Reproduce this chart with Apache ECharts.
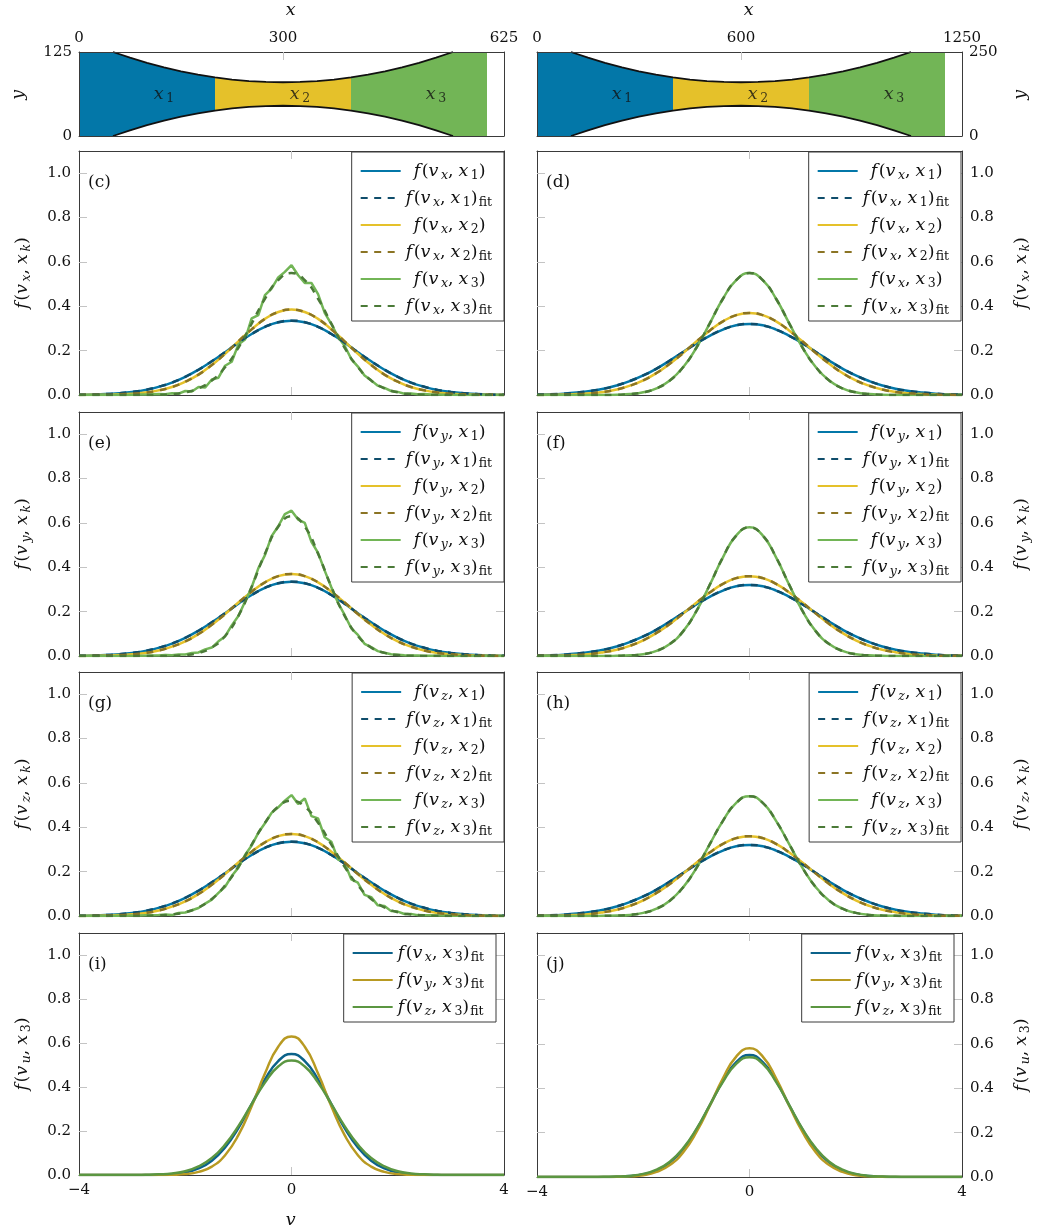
<!DOCTYPE html>
<html>
<head>
<meta charset="utf-8">
<script src="https://cdn.jsdelivr.net/npm/echarts@6/dist/echarts.min.js"></script>
<style>html,body{margin:0;padding:0;background:#fff}#chart{width:1037px;height:1230px}</style>
</head>
<body>
<div id="chart"></div>
<script>
// sample grids of v
var vGrid = [-4, -3.75, -3.5, -3.25, -3, -2.75, -2.5, -2.25, -2, -1.75, -1.5, -1.25, -1, -0.75, -0.5, -0.25, 0,
    0.25, 0.5, 0.75, 1, 1.25, 1.5, 1.75, 2, 2.25, 2.5, 2.75, 3, 3.25, 3.5, 3.75, 4];
var vFine = [-4, -3.875, -3.75, -3.625, -3.5, -3.375, -3.25, -3.125, -3, -2.875, -2.75, -2.625, -2.5, -2.375, -2.25, -2.125,
    -2, -1.875, -1.75, -1.625, -1.5, -1.375, -1.25, -1.125, -1, -0.875, -0.75, -0.625, -0.5, -0.375, -0.25, -0.125, 0,
    0.125, 0.25, 0.375, 0.5, 0.625, 0.75, 0.875, 1, 1.125, 1.25, 1.375, 1.5, 1.625, 1.75, 1.875, 2,
    2.125, 2.25, 2.375, 2.5, 2.625, 2.75, 2.875, 3, 3.125, 3.25, 3.375, 3.5, 3.625, 3.75, 3.875, 4];

// smooth profiles (on vGrid)
var G32 = [0.002, 0.003, 0.006, 0.011, 0.018, 0.028, 0.043, 0.063, 0.088, 0.119, 0.155, 0.194, 0.232, 0.267, 0.295, 0.314, 0.320,
    0.314, 0.295, 0.267, 0.232, 0.194, 0.155, 0.119, 0.088, 0.063, 0.043, 0.028, 0.018, 0.011, 0.006, 0.003, 0.002];
var G33 = [0.001, 0.002, 0.004, 0.008, 0.014, 0.023, 0.037, 0.056, 0.082, 0.114, 0.152, 0.193, 0.236, 0.275, 0.307, 0.328, 0.335,
    0.328, 0.307, 0.275, 0.236, 0.193, 0.152, 0.114, 0.082, 0.056, 0.037, 0.023, 0.014, 0.008, 0.004, 0.002, 0.001];
var G36 = [0.001, 0.001, 0.002, 0.005, 0.009, 0.017, 0.028, 0.046, 0.071, 0.104, 0.144, 0.191, 0.240, 0.286, 0.325, 0.351, 0.360,
    0.351, 0.325, 0.286, 0.240, 0.191, 0.144, 0.104, 0.071, 0.046, 0.028, 0.017, 0.009, 0.005, 0.002, 0.001, 0.001];
var G37 = [0.000, 0.001, 0.002, 0.004, 0.008, 0.014, 0.025, 0.042, 0.066, 0.099, 0.141, 0.189, 0.241, 0.290, 0.332, 0.360, 0.370,
    0.360, 0.332, 0.290, 0.241, 0.189, 0.141, 0.099, 0.066, 0.042, 0.025, 0.014, 0.008, 0.004, 0.002, 0.001, 0.000];
var G38 = [0.000, 0.001, 0.001, 0.003, 0.006, 0.011, 0.021, 0.036, 0.060, 0.092, 0.135, 0.186, 0.242, 0.296, 0.343, 0.374, 0.385,
    0.374, 0.343, 0.296, 0.242, 0.186, 0.135, 0.092, 0.060, 0.036, 0.021, 0.011, 0.006, 0.003, 0.001, 0.001, 0.000];
var G52 = [0, 0, 0, 0, 0, 0.001, 0.003, 0.007, 0.017, 0.039, 0.077, 0.138, 0.222, 0.322, 0.420, 0.493, 0.520,
    0.493, 0.420, 0.322, 0.222, 0.138, 0.077, 0.039, 0.017, 0.007, 0.003, 0.001, 0, 0, 0, 0, 0];
var G54 = [0, 0, 0, 0, 0, 0.001, 0.002, 0.005, 0.014, 0.033, 0.069, 0.129, 0.216, 0.323, 0.429, 0.510, 0.540,
    0.510, 0.429, 0.323, 0.216, 0.129, 0.069, 0.033, 0.014, 0.005, 0.002, 0.001, 0, 0, 0, 0, 0];
var G55 = [0, 0, 0, 0, 0, 0, 0.001, 0.004, 0.012, 0.030, 0.065, 0.125, 0.213, 0.322, 0.434, 0.518, 0.550,
    0.518, 0.434, 0.322, 0.213, 0.125, 0.065, 0.030, 0.012, 0.004, 0.001, 0, 0, 0, 0, 0, 0];
var G58 = [0, 0, 0, 0, 0, 0, 0.001, 0.003, 0.008, 0.023, 0.054, 0.111, 0.202, 0.320, 0.445, 0.543, 0.580,
    0.543, 0.445, 0.320, 0.202, 0.111, 0.054, 0.023, 0.008, 0.003, 0.001, 0, 0, 0, 0, 0, 0];
var G63 = [0, 0, 0, 0, 0, 0, 0, 0.001, 0.004, 0.014, 0.038, 0.090, 0.181, 0.312, 0.461, 0.583, 0.630,
    0.583, 0.461, 0.312, 0.181, 0.090, 0.038, 0.014, 0.004, 0.001, 0, 0, 0, 0, 0, 0, 0];

// noisy x3 histograms of (c), (e), (g) (on vFine)
var N_c = [0, 0, 0, 0, 0, 0, 0.001, 0, 0.001, 0.002, 0.002, 0.003,
    0.004, 0.003, 0.008, 0.006, 0.018, 0.016, 0.036, 0.034, 0.070, 0.078, 0.132, 0.150, 0.228, 0.250, 0.345, 0.360, 0.450, 0.480, 0.530, 0.555,
    0.585,
    0.540, 0.505, 0.505, 0.455, 0.370, 0.320, 0.262, 0.222, 0.162, 0.128, 0.088, 0.066, 0.042, 0.032, 0.018, 0.014, 0.006, 0.007, 0.003, 0.004,
    0.002, 0.002, 0.001, 0.001, 0, 0, 0, 0, 0, 0, 0, 0];
var N_e = [0, 0, 0, 0, 0, 0, 0, 0, 0, 0.001, 0.001, 0.002,
    0.002, 0.004, 0.003, 0.007, 0.007, 0.014, 0.016, 0.030, 0.038, 0.066, 0.088, 0.138, 0.180, 0.245, 0.310, 0.395, 0.455, 0.540, 0.585, 0.640,
    0.655,
    0.615, 0.600, 0.515, 0.465, 0.385, 0.310, 0.240, 0.185, 0.125, 0.095, 0.055, 0.040, 0.022, 0.015, 0.008, 0.006, 0.003, 0.002, 0.002, 0.001,
    0.001, 0.001, 0, 0, 0, 0, 0, 0, 0, 0, 0, 0];
var N_g = [0, 0, 0, 0, 0, 0.001, 0.001, 0.001, 0.002, 0.002, 0.003, 0.003,
    0.004, 0.007, 0.004, 0.014, 0.016, 0.026, 0.036, 0.056, 0.074, 0.104, 0.132, 0.180, 0.218, 0.275, 0.318, 0.375, 0.418, 0.465, 0.490, 0.520,
    0.545,
    0.505, 0.530, 0.450, 0.440, 0.355, 0.335, 0.255, 0.240, 0.165, 0.150, 0.095, 0.085, 0.048, 0.045, 0.022, 0.020, 0.009, 0.009, 0.004, 0.003,
    0.003, 0.002, 0.002, 0.001, 0.001, 0, 0, 0, 0, 0, 0, 0];

// channel geometry of (a) and (b)
var wallXa = [0, 50, 75, 100, 125, 150, 175, 200, 225, 250, 275, 300, 325, 350, 375, 400, 425, 450, 475, 500, 525, 550, 600, 625];
var wallTopA = [125, 125, 116.5, 108.8, 102, 96.2, 91.3, 87.2, 84, 81.8, 80.5, 80, 80.5, 81.8, 84, 87.2, 91.3, 96.2, 102, 108.8, 116.5, 125, 125, 125];
var wallBotA = [0, 0, 8.5, 16.2, 23, 28.8, 33.7, 37.8, 41, 43.2, 44.5, 45, 44.5, 43.2, 41, 37.8, 33.7, 28.8, 23, 16.2, 8.5, 0, 0, 0];
var wallXb = [0, 100, 150, 200, 250, 300, 350, 400, 450, 500, 550, 600, 650, 700, 750, 800, 850, 900, 950, 1000, 1050, 1100, 1200, 1250];
var wallTopB = [250, 250, 233, 217.6, 204, 192.4, 182.6, 174.4, 168, 163.6, 161, 160, 161, 163.6, 168, 174.4, 182.6, 192.4, 204, 217.6, 233, 250, 250, 250];
var wallBotB = [0, 0, 17, 32.4, 46, 57.6, 67.4, 75.6, 82, 86.4, 89, 90, 89, 86.4, 82, 75.6, 67.4, 57.6, 46, 32.4, 17, 0, 0, 0];
var regionsA = [[0, 200], [200, 400], [400, 600]];
var regionsB = [[0, 400], [400, 800], [800, 1200]];
var labelXA = [125, 325, 525];
var labelXB = [250, 650, 1050];

var FONT = 'DejaVu Serif';
var C = {
    blue: '#0377a8', yellow: '#e5c12a', green: '#72b556',
    blueD: '#0f4d6b', yellowD: '#8b7424', greenD: '#4b7a38',
    fitX: '#0b628a', fitY: '#b89a22', fitZ: '#5b9641',
    axis: '#3a3a3a', tick: '#c4c4c4', text: '#111'
};
var rich = {
    i: {fontFamily: FONT, fontStyle: 'italic', fontSize: 17.5, color: C.text, lineHeight: 22, padding: [0, 1.5, 0, 0]},
    r: {fontFamily: FONT, fontSize: 17.5, color: C.text, lineHeight: 22},
    si: {fontFamily: FONT, fontStyle: 'italic', fontSize: 12.5, color: C.text, lineHeight: 12, verticalAlign: 'bottom', padding: [0, 0, 0, 1]},
    sr: {fontFamily: FONT, fontSize: 12.5, color: C.text, lineHeight: 12, verticalAlign: 'bottom', padding: [0, 0, 0, 1]},
    sp: {width: 5},
    p: {width: 8}
};

function fName(comp, idx, fit, pad) {
    return (pad ? '{p| }' : '') + '{i|f}{r|(}{i|v}{si|' + comp + '}{r|,}{sp| }{i|x}{' + (idx === 'k' ? 'si' : 'sr') + '|' + idx + '}{r|)}' +
        (fit ? '{sr|fit}' : '');
}

var cols = [{left: 79, width: 425}, {left: 537, width: 425}];
var rows = [{top: 51, height: 85}, {top: 151, height: 244}, {top: 412, height: 244}, {top: 672, height: 244}, {top: 933, height: 244}];

var grids = [], xAxes = [], yAxes = [], series = [], legends = [], graphics = [], legendText = {};
var labelStyle = {fontFamily: FONT, fontSize: 15, color: C.text};

function addGrid(col, row) {
    grids.push({left: cols[col].left, top: rows[row].top, width: cols[col].width, height: rows[row].height, show: false});
    return grids.length - 1;
}
function axisLine() {
    return {show: true, onZero: false, lineStyle: {color: C.axis, width: 1}};
}
function tickStyle(vals) {
    return {show: true, inside: true, length: 8, customValues: vals, lineStyle: {color: C.tick, width: 1}};
}

// ---- (a) and (b): channel shape
function shapePanel(tag, col, X, T, B, regions, labX, xMax, yMax, xTicks, yPos) {
    var g = addGrid(col, 0);
    var xi = xAxes.length, yi = yAxes.length;
    xAxes.push({type: 'value', gridIndex: g, min: 0, max: xMax, position: 'bottom', z: 10,
        axisLine: axisLine(), axisTick: {show: false}, axisLabel: {show: false}, splitLine: {show: false}});
    xAxes.push({type: 'value', gridIndex: g, min: 0, max: xMax, position: 'top', z: 10,
        axisLine: axisLine(), axisTick: tickStyle([xTicks[1]]), splitLine: {show: false},
        axisLabel: Object.assign({customValues: xTicks, margin: 6, formatter: function (v) { return String(v); }}, labelStyle),
        name: '{i|x}', nameLocation: 'middle', nameGap: 31, nameTextStyle: {rich: rich}});
    yAxes.push({type: 'value', gridIndex: g, min: 0, max: yMax, position: yPos, z: 10,
        axisLine: axisLine(), axisTick: {show: false}, splitLine: {show: false},
        axisLabel: Object.assign({customValues: [0, yMax], margin: 7}, labelStyle),
        name: '{i|y}', nameLocation: 'middle', nameRotate: 90, nameGap: yPos === 'left' ? 50 : 47, nameTextStyle: {rich: rich}});
    yAxes.push({type: 'value', gridIndex: g, min: 0, max: yMax, position: yPos === 'left' ? 'right' : 'left', z: 10,
        axisLine: axisLine(), axisTick: {show: false}, axisLabel: {show: false}, splitLine: {show: false}});
    var fills = [C.blue, C.yellow, C.green];
    regions.forEach(function (r, k) {
        var d = [];
        for (var i = 0; i < X.length; i++) if (X[i] >= r[0] && X[i] <= r[1]) d.push([X[i], T[i]]);
        series.push({type: 'line', xAxisIndex: xi, yAxisIndex: yi, data: d, symbol: 'none', silent: true,
            lineStyle: {width: 0}, areaStyle: {color: fills[k], opacity: 1}, z: 1});
    });
    var low = [], top = [], bot = [];
    for (var i = 0; i < X.length; i++) {
        low.push([X[i], B[i]]);
        if (X[i] >= X[1] && X[i] <= X[X.length - 3]) {
            top.push([X[i], T[i]]);
            bot.push([X[i], B[i]]);
        }
    }
    series.push({type: 'line', xAxisIndex: xi, yAxisIndex: yi, data: low, symbol: 'none', silent: true,
        lineStyle: {width: 0}, areaStyle: {color: '#fff', opacity: 1}, z: 1});
    [top, bot].forEach(function (d) {
        series.push({type: 'line', xAxisIndex: xi, yAxisIndex: yi, data: d, symbol: 'none', silent: true,
            lineStyle: {color: '#111', width: 1.8}, z: 3});
    });
    series.push({type: 'scatter', xAxisIndex: xi, yAxisIndex: yi, symbolSize: 1, silent: true,
        itemStyle: {color: 'rgba(0,0,0,0)'}, z: 4,
        data: labX.map(function (x, k) { return [x, yMax / 2, k + 1]; }),
        label: {show: true, position: 'inside', rich: rich,
            formatter: function (p) { return '{i|x}{sr|' + p.value[2] + '}'; }}});
    graphics.push({type: 'text', left: cols[col].left + 9, top: rows[0].top + 12,
        style: {text: '(' + tag + ')', font: '17px "' + FONT + '"', fill: C.text}});
}

shapePanel('a', 0, wallXa, wallTopA, wallBotA, regionsA, labelXA, 625, 125, [0, 300, 625], 'left');
shapePanel('b', 1, wallXb, wallTopB, wallBotB, regionsB, labelXB, 1250, 250, [0, 600, 1250], 'right');

// ---- distribution panels
var sixStyles = [
    {c: C.blue, dash: false, idx: '1'}, {c: C.blueD, dash: true, idx: '1'},
    {c: C.yellow, dash: false, idx: '2'}, {c: C.yellowD, dash: true, idx: '2'},
    {c: C.green, dash: false, idx: '3'}, {c: C.greenD, dash: true, idx: '3'}
];
var fitStyles = [{c: C.fitX, comp: 'x'}, {c: C.fitY, comp: 'y'}, {c: C.fitZ, comp: 'z'}];

var distPanels = [
    {tag: 'c', col: 0, row: 1, comp: 'x', data: [G33, G33, G38, G38, N_c, G55]},
    {tag: 'd', col: 1, row: 1, comp: 'x', data: [G32, G32, G37, G37, G55, G55]},
    {tag: 'e', col: 0, row: 2, comp: 'y', data: [G33, G33, G37, G37, N_e, G63]},
    {tag: 'f', col: 1, row: 2, comp: 'y', data: [G32, G32, G36, G36, G58, G58]},
    {tag: 'g', col: 0, row: 3, comp: 'z', data: [G33, G33, G37, G37, N_g, G52]},
    {tag: 'h', col: 1, row: 3, comp: 'z', data: [G32, G32, G36, G36, G54, G54]},
    {tag: 'i', col: 0, row: 4, comp: 'u', fitOnly: true, data: [G55, G63, G52]},
    {tag: 'j', col: 1, row: 4, comp: 'u', fitOnly: true, data: [G55, G58, G54]}
];
var yTicks = [0, 0.2, 0.4, 0.6, 0.8, 1.0];

distPanels.forEach(function (p) {
    var g = addGrid(p.col, p.row);
    var xi = xAxes.length, yi = yAxes.length;
    var bottomRow = p.row === 4;
    var side = p.col === 0 ? 'left' : 'right';
    xAxes.push({type: 'value', gridIndex: g, min: -4, max: 4, position: 'bottom',
        axisLine: axisLine(), axisTick: tickStyle([0]), splitLine: {show: false},
        axisLabel: Object.assign({show: bottomRow, customValues: [-4, 0, 4], margin: 8,
            formatter: function (v) { return v < 0 ? '\u2212' + Math.abs(v) : String(v); }}, labelStyle),
        name: (bottomRow && p.col === 0) ? '{i|v}' : '', nameLocation: 'middle', nameGap: 34, nameTextStyle: {rich: rich}});
    xAxes.push({type: 'value', gridIndex: g, min: -4, max: 4, position: 'top',
        axisLine: axisLine(), axisTick: tickStyle([0]), axisLabel: {show: false}, splitLine: {show: false}});
    yAxes.push({type: 'value', gridIndex: g, min: 0, max: 1.1, position: side,
        axisLine: axisLine(), axisTick: tickStyle(yTicks.slice(1)), splitLine: {show: false},
        axisLabel: Object.assign({customValues: yTicks, margin: 8,
            formatter: function (v) { return v.toFixed(1); }}, labelStyle),
        name: p.fitOnly ? fName('u', '3') : fName(p.comp, 'k'), nameLocation: 'middle', nameRotate: 90,
        nameGap: side === 'left' ? 46 : 48, nameTextStyle: {rich: rich}});
    yAxes.push({type: 'value', gridIndex: g, min: 0, max: 1.1, position: side === 'left' ? 'right' : 'left',
        axisLine: axisLine(), axisTick: tickStyle(yTicks.slice(1)), axisLabel: {show: false}, splitLine: {show: false}});

    var names = [];
    p.data.forEach(function (ys, k) {
        var st = p.fitOnly ? fitStyles[k] : sixStyles[k];
        var vs = ys.length === vFine.length ? vFine : vGrid;
        var name = p.tag + k;
        legendText[name] = p.fitOnly ? fName(st.comp, '3', true) : fName(p.comp, st.idx, st.dash, !st.dash);
        names.push(name);
        series.push({type: 'line', name: name, xAxisIndex: xi, yAxisIndex: yi, symbol: 'none', silent: true,
            smooth: vs === vGrid ? 0.5 : false,
            data: vs.map(function (v, i) { return [v, ys[i]]; }),
            itemStyle: {color: st.c},
            lineStyle: {color: st.c, width: 2.5, type: st.dash ? [7, 6.5] : 'solid'},
            z: st.dash ? 3 : 2});
    });
    var lg = {orient: 'vertical', top: rows[p.row].top + (p.fitOnly ? 1 : 1), data: names, selectedMode: false,
        itemWidth: 40, itemHeight: 12, itemGap: 7, padding: [10, 12, 4, 8],
        itemStyle: {opacity: 0},
        borderColor: C.axis, borderWidth: 1, backgroundColor: '#fff',
        textStyle: {fontFamily: FONT, rich: rich},
        formatter: function (n) { return legendText[n]; }};
    if (p.fitOnly) lg.right = p.col === 0 ? 541 : 83;
    else lg.right = p.col === 0 ? 533 : 76;
    legends.push(lg);
    graphics.push({type: 'text', left: cols[p.col].left + 9, top: rows[p.row].top + 23,
        style: {text: '(' + p.tag + ')', font: '17px "' + FONT + '"', fill: C.text}});
});

var chart = echarts.init(document.getElementById('chart'));
chart.setOption({
    animation: false,
    backgroundColor: '#fff',
    grid: grids,
    xAxis: xAxes,
    yAxis: yAxes,
    legend: legends,
    graphic: graphics,
    series: series
});
</script>
</body>
</html>
